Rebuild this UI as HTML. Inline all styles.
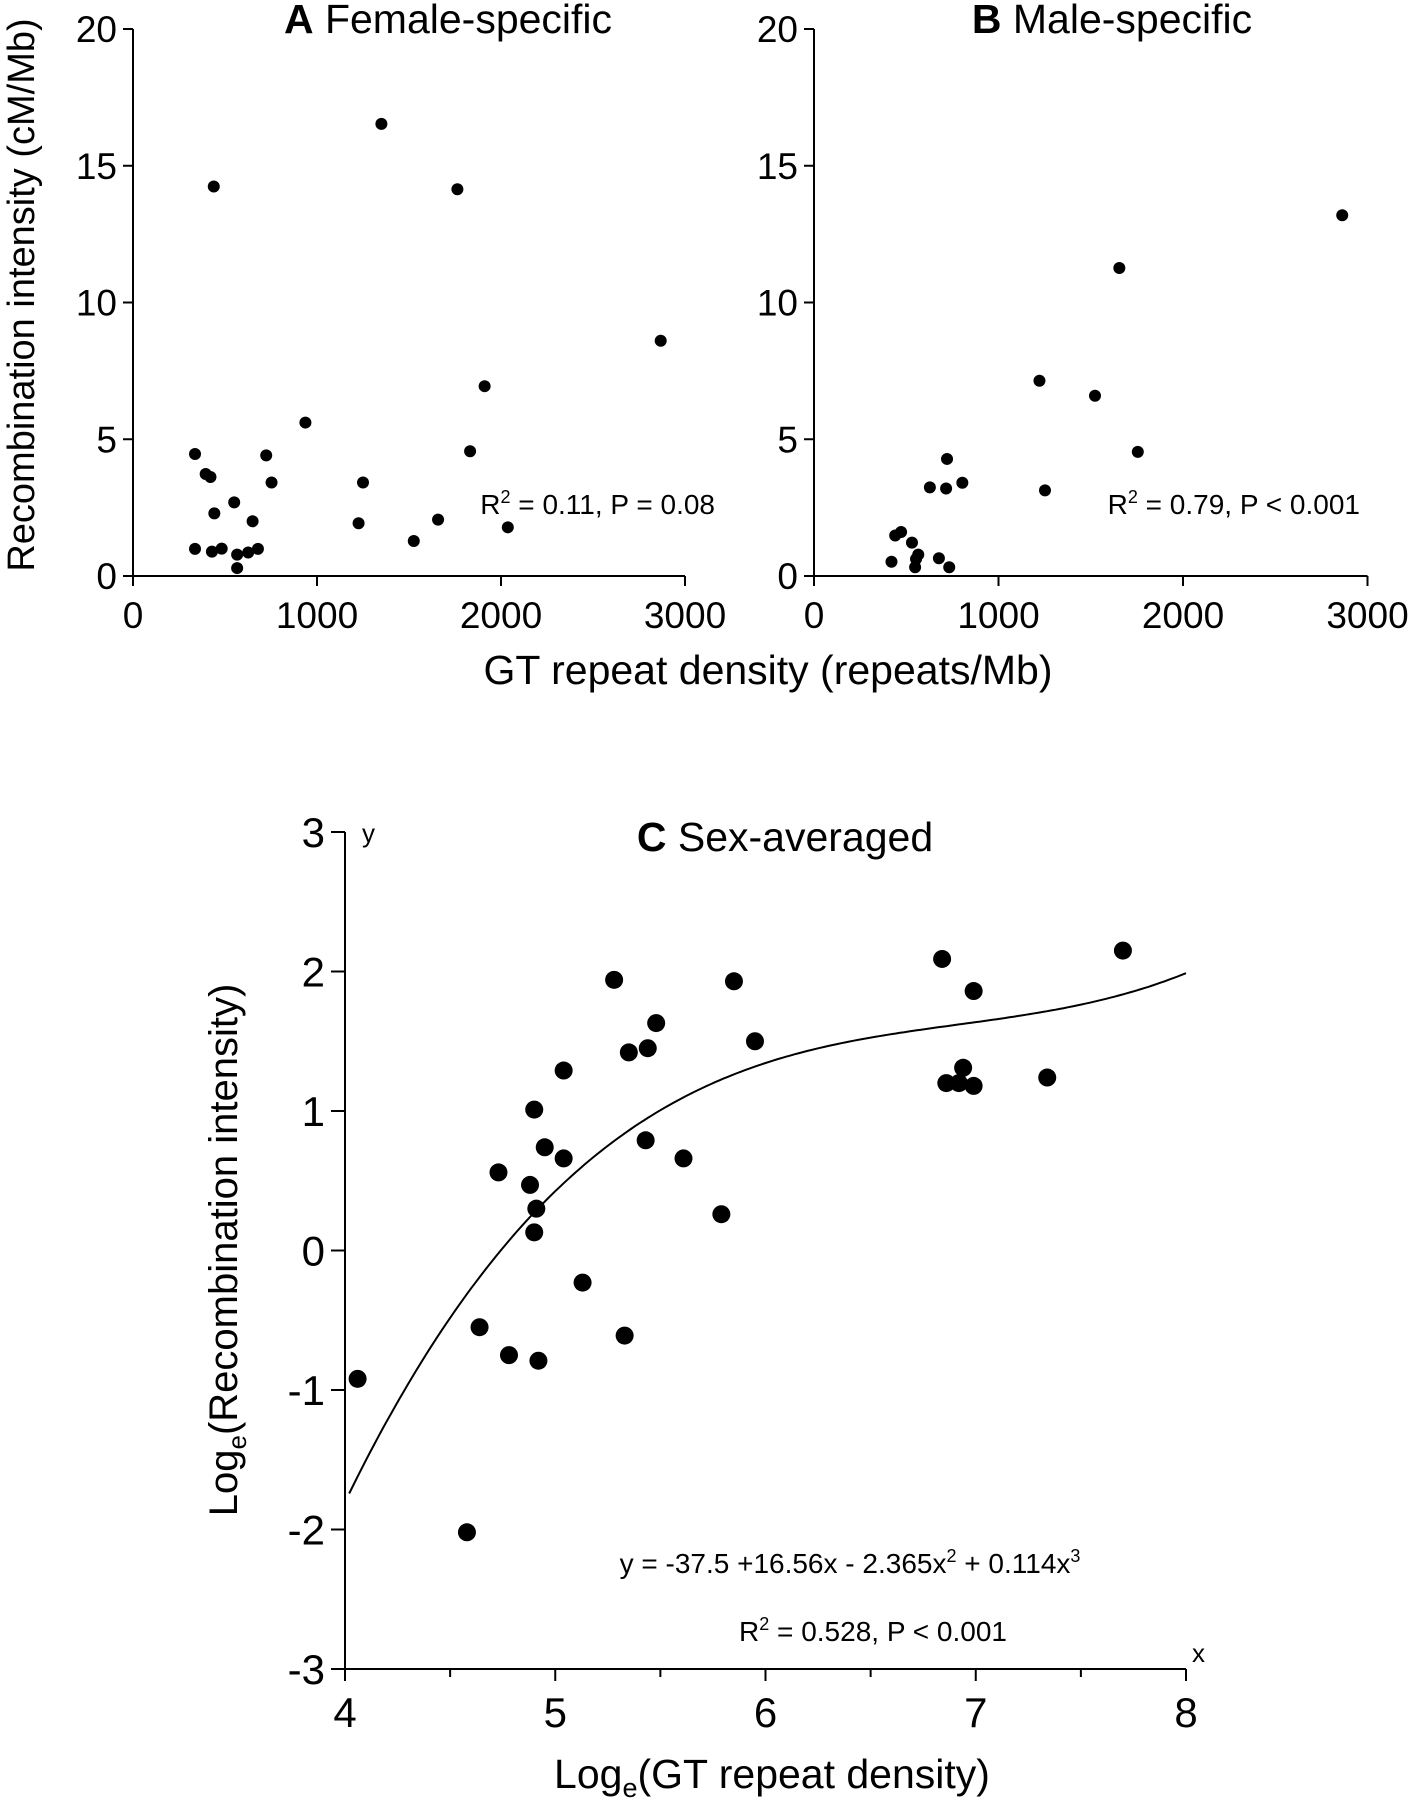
<!DOCTYPE html>
<html><head><meta charset="utf-8"><style>
body{margin:0;background:#fff}
svg{display:block;font-family:"Liberation Sans",Arial,sans-serif}
</style></head><body>
<svg id="chart" width="1409" height="1800" viewBox="0 0 1409 1800"></svg>
<script>
const aX=[337,395,421,439,442,550,337,429,482,566,566,626,679,650,724,753,937,1226,1250,1350,1526,1658,1763,1832,1911,2037,2868];
const aY=[4.46,3.73,3.62,14.24,2.29,2.69,0.99,0.89,1.0,0.78,0.29,0.86,0.99,2.0,4.41,3.42,5.61,1.93,3.42,16.53,1.28,2.06,14.14,4.56,6.94,1.78,8.6];
const bX=[420,440,472,531,565,553,548,677,733,628,716,721,804,1222,1252,1523,1655,1755,2863];
const bY=[0.52,1.48,1.61,1.22,0.78,0.62,0.32,0.65,0.32,3.24,3.2,4.28,3.41,7.14,3.13,6.59,11.26,4.54,13.19];
const cX=[4.06,4.58,4.64,4.73,4.78,4.88,4.90,4.91,4.90,4.92,4.95,5.04,5.04,5.13,5.28,5.33,5.35,5.43,5.44,5.48,5.61,5.79,5.85,5.95,6.84,6.86,6.92,6.94,6.99,6.99,7.34,7.70];
const cY=[-0.92,-2.02,-0.55,0.56,-0.75,0.47,1.01,0.30,0.13,-0.79,0.74,1.29,0.66,-0.23,1.94,-0.61,1.42,0.79,1.45,1.63,0.66,0.26,1.93,1.50,2.09,1.20,1.20,1.31,1.86,1.18,1.24,2.15];
const abXTicks=[0,1000,2000,3000];
const abYTicks=[0,5,10,15,20];
const cXTicks=[4,5,6,7,8];
const cYTicks=[-3,-2,-1,0,1,2,3];
const coef=[-37.5,16.56,-2.365,0.114];

const svg=document.getElementById('chart');
const NS='http://www.w3.org/2000/svg';
function el(t,a,txt){const e=document.createElementNS(NS,t);for(const k in a)e.setAttribute(k,a[k]);if(txt!==undefined)e.textContent=txt;svg.appendChild(e);return e;}
function line(x1,y1,x2,y2,w){return el('line',{x1,y1,x2,y2,stroke:'#000','stroke-width':w||2});}

function scatterPanel(p,xs,ys,id){
  const sx=v=>p.x0+v*p.kx, sy=v=>p.y0-v*p.ky;
  const ax=line(p.x0,sy(20),p.x0,p.y0);
  
  const bx=line(p.x0,p.y0,sx(3000),p.y0);
  
  abYTicks.forEach(v=>{line(p.x0-10,sy(v),p.x0,sy(v));
    const t=el('text',{x:p.x0-16,y:sy(v)+13,'font-size':37,'text-anchor':'end'},v);
    });
  abXTicks.forEach(v=>{line(sx(v),p.y0,sx(v),p.y0+10);
    const t=el('text',{x:sx(v),y:p.y0+52,'font-size':37,'text-anchor':'middle'},v);
    });
  xs.forEach((v,i)=>{const c=el('circle',{cx:sx(v),cy:sy(ys[i]),r:6,fill:'#000'});
    });
}
scatterPanel({x0:133,kx:0.184,y0:576,ky:27.35},aX,aY,'panel-a');
scatterPanel({x0:814,kx:0.1845,y0:576,ky:27.35},bX,bY,'panel-b');

let t;
t=el('text',{x:448,y:33,'font-size':41,'text-anchor':'middle'});t.innerHTML='<tspan font-weight="bold">A</tspan>  Female-specific';

t=el('text',{x:1112,y:33,'font-size':41,'text-anchor':'middle'});t.innerHTML='<tspan font-weight="bold">B</tspan>  Male-specific';

t=el('text',{x:715,y:514,'font-size':28,'text-anchor':'end'});t.innerHTML='R<tspan font-size="18" dy="-11">2</tspan><tspan dy="11"> = 0.11, P = 0.08</tspan>';

t=el('text',{x:1360,y:514,'font-size':28,'text-anchor':'end'});t.innerHTML='R<tspan font-size="18" dy="-11">2</tspan><tspan dy="11"> = 0.79, P &lt; 0.001</tspan>';

t=el('text',{x:0,y:0,'font-size':38,'text-anchor':'middle',transform:'translate(34,295) rotate(-90)'},'Recombination intensity (cM/Mb)');

t=el('text',{x:768,y:684,'font-size':41,'text-anchor':'middle'},'GT repeat density (repeats/Mb)');


// Panel C
const cx0=345,ckx=210.25,cyz=832+3*139.5,cky=139.5;
const csx=v=>cx0+(v-4)*ckx, csy=v=>cyz-v*cky;
t=line(cx0,csy(3),cx0,csy(-3));
t=line(cx0-12,csy(-3),csx(8),csy(-3));
cYTicks.forEach(v=>{line(cx0-14,csy(v),cx0,csy(v));
  const tt=el('text',{x:cx0-20,y:csy(v)+15,'font-size':42,'text-anchor':'end'},v);
  });
for(let v=4;v<=8.001;v+=0.5){line(csx(v),csy(-3),csx(v),csy(-3)+(Number.isInteger(v)?12:8));}
cXTicks.forEach(v=>{const tt=el('text',{x:csx(v),y:csy(-3)+58,'font-size':42,'text-anchor':'middle'},v);
  });
t=el('text',{x:362,y:842,'font-size':26},'y');
t=el('text',{x:1192,y:1662,'font-size':26},'x');
let d='';
for(let v=4.02;v<=8.0001;v+=0.02){const y=coef[0]+coef[1]*v+coef[2]*v*v+coef[3]*v*v*v;d+=(d?'L':'M')+csx(v).toFixed(1)+','+csy(y).toFixed(1);}
t=el('path',{d,fill:'none',stroke:'#000','stroke-width':2});
cX.forEach((v,i)=>{const c=el('circle',{cx:csx(v),cy:csy(cY[i]),r:9,fill:'#000'});
  });
t=el('text',{x:785,y:851,'font-size':41,'text-anchor':'middle'});t.innerHTML='<tspan font-weight="bold">C</tspan>  Sex-averaged';

t=el('text',{x:850,y:1573,'font-size':28,'text-anchor':'middle'});t.innerHTML='y = -37.5 +16.56x - 2.365x<tspan font-size="18" dy="-11">2</tspan><tspan dy="11"> + 0.114x</tspan><tspan font-size="18" dy="-11">3</tspan>';

t=el('text',{x:873,y:1641,'font-size':28,'text-anchor':'middle'});t.innerHTML='R<tspan font-size="18" dy="-11">2</tspan><tspan dy="11"> = 0.528, P &lt; 0.001</tspan>';

t=el('text',{x:0,y:0,'font-size':40,'text-anchor':'middle',transform:'translate(237,1250) rotate(-90)'});t.innerHTML='Log<tspan font-size="26" dy="9">e</tspan><tspan dy="-9">(Recombination intensity)</tspan>';

t=el('text',{x:772,y:1788,'font-size':41,'text-anchor':'middle'});t.innerHTML='Log<tspan font-size="27" dy="9">e</tspan><tspan dy="-9">(GT repeat density)</tspan>';

</script>
</body></html>
